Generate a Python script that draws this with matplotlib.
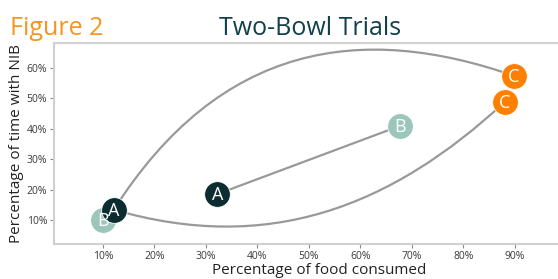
import matplotlib
matplotlib.use("Agg")
import matplotlib.pyplot as plt
from matplotlib.path import Path
from matplotlib.patches import PathPatch

# points (x = % food consumed, y = % time with NIB)
labels = ["B", "A", "A", "B", "C", "C"]
x_pts = [10.0, 12.1, 32.2, 67.6, 89.8, 88.0]
y_pts = [10.0, 13.4, 18.5, 40.9, 57.4, 48.8]
colors = {"A": "#0c2c30", "B": "#9dc6bb", "C": "#ff8000"}

# connecting curves as cubic bezier control points (data units)
upper_ctrl_x = [12.1, 32.8, 60.2, 89.8]
upper_ctrl_y = [13.4, 68.3, 74.9, 57.4]
lower_ctrl_x = [12.1, 42.1, 66.0, 88.0]
lower_ctrl_y = [13.4, -1.4, 14.3, 48.8]
mid_x = [32.2, 67.6]
mid_y = [18.5, 40.9]

xticks = [10, 20, 30, 40, 50, 60, 70, 80, 90]
yticks = [10, 20, 30, 40, 50, 60]

plt.rcParams['font.family'] = ['Open Sans', 'DejaVu Sans']

fig = plt.figure(figsize=(5.58, 2.79), dpi=100)
ax = fig.add_axes([0.0968, 0.1254, 0.95, 0.7206])

line_kw = dict(color="#999999", linewidth=1.6, zorder=1)
for cx, cy in [(upper_ctrl_x, upper_ctrl_y), (lower_ctrl_x, lower_ctrl_y)]:
    path = Path(list(zip(cx, cy)), [Path.MOVETO, Path.CURVE4, Path.CURVE4, Path.CURVE4])
    ax.add_patch(PathPatch(path, facecolor="none", edgecolor=line_kw["color"],
                           linewidth=line_kw["linewidth"], zorder=1))
ax.plot(mid_x, mid_y, solid_capstyle="round", **line_kw)

for lab, x, y in zip(labels, x_pts, y_pts):
    ax.plot(x, y, "o", markersize=18.5, color=colors[lab],
            markeredgecolor="white", markeredgewidth=0.6, zorder=2)
for lab, x, y in zip(labels, x_pts, y_pts):
    ax.text(x, y - 0.3, lab, color="white", fontsize=13,
            ha="center", va="center", zorder=3)

ax.set_xlim(0.49, 98.35 + (98.35 - 0.49) * (0.95 / 0.9032 - 1))
ax.set_ylim(2.1, 68.2)
ax.set_xticks(xticks)
ax.set_xticklabels([str(t) + "%" for t in xticks])
ax.set_yticks(yticks)
ax.set_yticklabels([str(t) + "%" for t in yticks])
ax.tick_params(labelsize=7.5, colors="#3a3a3a", length=3, width=0.8, pad=2)
ax.tick_params(color="#888888")

for s in ["left", "top", "bottom"]:
    ax.spines[s].set_color("#d0d0d0")
    ax.spines[s].set_linewidth(1.5)
ax.spines["right"].set_visible(False)

ax.set_xlabel("Percentage of food consumed", fontsize=11, color="#222222", labelpad=0.5)
ax.set_ylabel("Percentage of time with NIB", fontsize=11, color="#222222", labelpad=2)

fig.text(0.018, 0.875, "Figure 2", color="#f7941d", fontsize=18)
fig.text(0.556, 0.875, "Two-Bowl Trials", color="#12404c", fontsize=18, ha="center")

fig.savefig("out.png", dpi=100)
